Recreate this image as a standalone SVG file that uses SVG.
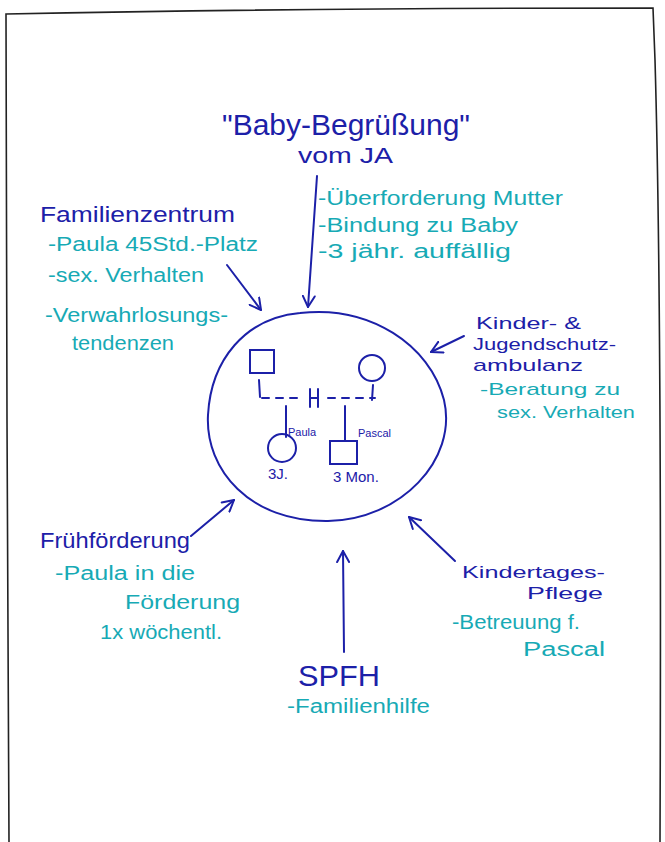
<svg xmlns="http://www.w3.org/2000/svg" width="665" height="842" viewBox="0 0 665 842">
<defs>
<style>
.h{fill:#1c20a8;font-family:"Liberation Sans",sans-serif;font-size:22px}
.t{fill:#17aab5;font-family:"Liberation Sans",sans-serif;font-size:20px}
.k{font-size:17px}
.s{fill:#1c20a8;font-family:"Liberation Sans",sans-serif;font-size:11px}
.ln{stroke:#1c20a8;stroke-width:2;fill:none;stroke-linecap:round}
.arr{stroke:#1c20a8;stroke-width:2;fill:none;stroke-linecap:round;stroke-linejoin:round}
</style>
<marker id="ah" viewBox="0 0 14 14" refX="12" refY="7" markerWidth="14" markerHeight="14" orient="auto" markerUnits="userSpaceOnUse">
<path d="M1,1 L12,7 L1,13" fill="none" stroke="#1c20a8" stroke-width="2" stroke-linecap="round" stroke-linejoin="round"/>
</marker>
</defs>
<rect width="665" height="842" fill="#ffffff"/>
<path d="M9,842 L7,420 L6,14 Q300,8 653,8 L655,60 Q662,300 660,842" fill="none" stroke="#222" stroke-width="1.6"/>

<g id="connectors">
<path class="arr" d="M317,176 L308,307" marker-end="url(#ah)"/>
<path class="arr" d="M227,265 L261,310" marker-end="url(#ah)"/>
<path class="arr" d="M464,336 L431,352" marker-end="url(#ah)"/>
<path class="arr" d="M191,536 L234,500" marker-end="url(#ah)"/>
<path class="arr" d="M455,561 L409,517" marker-end="url(#ah)"/>
<path class="arr" d="M344,652 L343,551" marker-end="url(#ah)"/>
</g>

<g id="family">
<path class="ln" d="M300,313 C370,305 430,345 444,400 C458,460 400,520 328,521 C250,522 205,470 208,415 C211,360 245,318 300,313 Z"/>
<rect class="ln" x="250" y="350" width="24" height="23"/>
<circle class="ln" cx="372" cy="368" r="13"/>
<path class="ln" d="M259,380 L260,397"/>
<path class="ln" d="M373,385 L372,400"/>
<path class="ln" d="M262,398 L302,398 M328,398 L375,398" stroke-dasharray="7,7"/>
<path class="ln" d="M310,389 L310,407 M318,389 L318,407 M310,398 L318,398"/>
<path class="ln" d="M286,406 L286,437"/>
<path class="ln" d="M345,406 L345,441"/>
<circle class="ln" cx="282" cy="448" r="14"/>
<rect class="ln" x="330" y="441" width="27" height="23"/>
<text class="s" x="288" y="436">Paula</text>
<text class="s" x="358" y="437">Pascal</text>
<text class="h" x="268" y="479" style="font-size:15px">3J.</text>
<text class="h" x="333" y="482" style="font-size:15px">3 Mon.</text>
</g>

<g id="baby">
<text class="h" x="222" y="135" style="font-size:30px" textLength="248" lengthAdjust="spacingAndGlyphs">"Baby-Begrüßung"</text>
<text class="h" x="298" y="163" textLength="95" lengthAdjust="spacingAndGlyphs">vom JA</text>
<text class="t" x="318" y="205" textLength="245" lengthAdjust="spacingAndGlyphs">-Überforderung Mutter</text>
<text class="t" x="318" y="232" textLength="200" lengthAdjust="spacingAndGlyphs">-Bindung zu Baby</text>
<text class="t" x="318" y="258" textLength="193" lengthAdjust="spacingAndGlyphs">-3 jähr. auffällig</text>
</g>

<g id="familienzentrum">
<text class="h" x="40" y="222" textLength="195" lengthAdjust="spacingAndGlyphs">Familienzentrum</text>
<text class="t" x="48" y="251" textLength="210" lengthAdjust="spacingAndGlyphs">-Paula 45Std.-Platz</text>
<text class="t" x="48" y="282" textLength="156" lengthAdjust="spacingAndGlyphs">-sex. Verhalten</text>
<text class="t" x="45" y="322" textLength="183" lengthAdjust="spacingAndGlyphs">-Verwahrlosungs-</text>
<text class="t" x="72" y="350" textLength="102" lengthAdjust="spacingAndGlyphs">tendenzen</text>
</g>

<g id="kinderschutz">
<text class="h k" x="476" y="329" textLength="105" lengthAdjust="spacingAndGlyphs">Kinder- &amp;</text>
<text class="h k" x="473" y="350" textLength="143" lengthAdjust="spacingAndGlyphs">Jugendschutz-</text>
<text class="h k" x="473" y="371" textLength="110" lengthAdjust="spacingAndGlyphs">ambulanz</text>
<text class="t k" x="480" y="395" textLength="140" lengthAdjust="spacingAndGlyphs">-Beratung zu</text>
<text class="t k" x="497" y="418" textLength="138" lengthAdjust="spacingAndGlyphs">sex. Verhalten</text>
</g>

<g id="fruehfoerderung">
<text class="h" x="40" y="548" textLength="150" lengthAdjust="spacingAndGlyphs">Frühförderung</text>
<text class="t" x="55" y="580" textLength="140" lengthAdjust="spacingAndGlyphs">-Paula in die</text>
<text class="t" x="125" y="609" textLength="115" lengthAdjust="spacingAndGlyphs">Förderung</text>
<text class="t" x="100" y="639" textLength="122" lengthAdjust="spacingAndGlyphs">1x wöchentl.</text>
</g>

<g id="kindertagespflege">
<text class="h k" x="462" y="578" textLength="143" lengthAdjust="spacingAndGlyphs">Kindertages-</text>
<text class="h k" x="527" y="599" textLength="76" lengthAdjust="spacingAndGlyphs">Pflege</text>
<text class="t" x="452" y="629" textLength="128" lengthAdjust="spacingAndGlyphs">-Betreuung f.</text>
<text class="t" x="523" y="656" textLength="82" lengthAdjust="spacingAndGlyphs">Pascal</text>
</g>

<g id="spfh">
<text class="h" x="298" y="686" style="font-size:30px" textLength="82" lengthAdjust="spacingAndGlyphs">SPFH</text>
<text class="t" x="287" y="713" textLength="143" lengthAdjust="spacingAndGlyphs">-Familienhilfe</text>
</g>
</svg>
